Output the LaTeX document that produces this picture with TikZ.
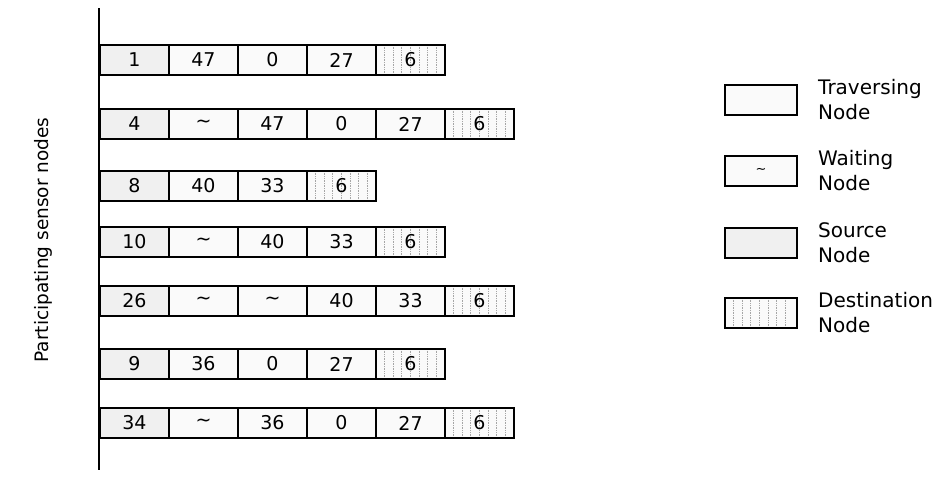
\documentclass[tikz,border=0pt]{standalone}
\usepackage{fontspec}
\setmainfont{DejaVu Sans}
\begin{document}
\begin{tikzpicture}[x=1pt,y=-1pt,
  cell/.style={draw=black, line width=2pt, minimum width=69pt, minimum height=30pt,
    inner sep=0pt, anchor=west, font=\fontsize{19}{22}\selectfont},
  cellkind/.style={#1},
  src/.style={fill=gray!12},
  trav/.style={fill=gray!4},
  wait/.style={fill=gray!4},
  dst/.style={fill=gray!4, path picture={
      \foreach \k in {1,...,7}
        \draw[gray!70, line width=0.7pt, densely dotted]
          ([xshift=\k*8.6pt]path picture bounding box.north west) --
          ([xshift=\k*8.6pt]path picture bounding box.south west);}},
  legbox/.style={draw=black, line width=2pt, minimum width=72pt, minimum height=30pt, inner sep=0pt},
  legtext/.style={anchor=west, align=left, font=\fontsize{20}{25}\selectfont, inner sep=0pt},
]
\useasboundingbox (0,0) rectangle (936,477);

% axis
\coordinate (axtop) at (99,8);
\coordinate (axbot) at (99,470);
\draw[line width=1.4pt] (axtop) -- (axbot);
\node[rotate=90, font=\fontsize{18.5}{22}\selectfont] (ylab) at (43,240) {Participating sensor nodes};

% rows
\foreach \row/\y/\cells in {
  1/60/{src/1,trav/47,trav/0,trav/27,dst/6},
  2/124/{src/4,wait/∼,trav/47,trav/0,trav/27,dst/6},
  3/186/{src/8,trav/40,trav/33,dst/6},
  4/242/{src/10,wait/∼,trav/40,trav/33,dst/6},
  5/301/{src/26,wait/∼,wait/∼,trav/40,trav/33,dst/6},
  6/364/{src/9,trav/36,trav/0,trav/27,dst/6},
  7/423/{src/34,wait/∼,trav/36,trav/0,trav/27,dst/6}}{
  \foreach \typ/\lab [count=\c] in \cells {
    \node[cell, cellkind/.expanded=\typ] (r\row c\c) at ({99+(\c-1)*69},\y) {\lab};
  }
}

% legend
\node[legbox, trav] (leg1) at (761,100) {};
\node[legtext] (legt1) at (818,100) {Traversing\\Node};
\node[legbox, wait, font=\fontsize{13}{14}\selectfont] (leg2) at (761,171) {∼};
\node[legtext] (legt2) at (818,171) {Waiting\\Node};
\node[legbox, src] (leg3) at (761,243) {};
\node[legtext] (legt3) at (818,243) {Source\\Node};
\node[legbox, dst] (leg4) at (761,313) {};
\node[legtext] (legt4) at (818,313) {Destination\\Node};
\end{tikzpicture}
\end{document}
